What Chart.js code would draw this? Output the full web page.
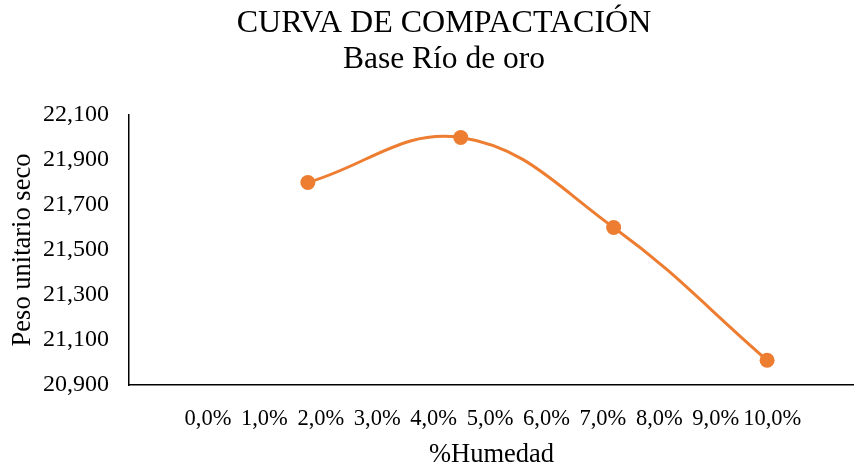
<!DOCTYPE html>
<html>
<head>
<meta charset="utf-8">
<script src="https://cdn.jsdelivr.net/npm/chart.js@4/dist/chart.umd.min.js"></script>
<style>
html,body{margin:0;padding:0;background:#fff;}
#wrap{width:854px;height:467px;}
</style>
</head>
<body>
<div id="wrap"><canvas id="c" width="854" height="467"></canvas></div>
<script>
const titleText = "CURVA DE COMPACTACIÓN";
const subtitleText = "Base Río de oro";
const xTitle = "%Humedad";
const yTitle = "Peso unitario seco";
const humedad = [1.77, 4.48, 7.19, 9.91];
const pesoSeco = [21800, 22000, 21600, 21010];
const xTickValues = [0, 1, 2, 3, 4, 5, 6, 7, 8, 9, 10];
const yTickValues = [20900, 21100, 21300, 21500, 21700, 21900, 22100];

const serif = "'Liberation Serif', 'Times New Roman', serif";

const titlePlugin = {
  id: 'titles',
  afterDraw(chart) {
    const ctx = chart.ctx;
    ctx.save();
    ctx.fillStyle = '#000';
    ctx.textAlign = 'center';
    ctx.textBaseline = 'alphabetic';
    ctx.font = "32px " + serif;
    ctx.fillText(titleText, 444, 32);
    ctx.font = "31.5px " + serif;
    ctx.fillText(subtitleText, 444, 68);
    ctx.restore();
  }
};

new Chart(document.getElementById('c'), {
  type: 'line',
  data: {
    datasets: [{
      data: humedad.map((x, i) => ({x: x, y: pesoSeco[i]})),
      borderColor: '#ED7D31',
      backgroundColor: '#ED7D31',
      borderWidth: 3,
      pointRadius: 7.5,
      pointHoverRadius: 7.5,
      pointBorderWidth: 0,
      tension: 0.4,
      fill: false
    }]
  },
  plugins: [titlePlugin],
  options: {
    responsive: false,
    animation: false,
    devicePixelRatio: 1,
    layout: { autoPadding: false, padding: { top: 115, right: 0, left: 0, bottom: 0 } },
    plugins: { legend: { display: false }, tooltip: { enabled: false } },
    scales: {
      x: {
        type: 'linear',
        min: -1.40,
        max: 11.45,
        afterBuildTicks(s) { s.ticks = xTickValues.map(v => ({value: v})); },
        afterFit(s) { s.height = 82; s.paddingRight = 0; s.paddingLeft = 0; },
        grid: { display: false, drawTicks: false },
        border: { display: true, color: '#000', width: 1.5 },
        ticks: {
          padding: 21,
          color: '#000',
          font: { family: serif, size: 22.5 },
          maxRotation: 0,
          autoSkip: false,
          callback: v => v.toFixed(1).replace('.', ',') + '%'
        },
        title: {
          display: true,
          text: xTitle,
          color: '#000',
          font: { family: serif, size: 26.5 },
          padding: { top: 6, bottom: -4 }
        }
      },
      y: {
        min: 20900,
        max: 22100,
        afterBuildTicks(s) { s.ticks = yTickValues.map(v => ({value: v})); },
        afterFit(s) { s.width = 129; },
        grid: { display: false, drawTicks: false },
        border: { display: true, color: '#000', width: 1.5 },
        ticks: {
          padding: 20,
          color: '#000',
          font: { family: serif, size: 24 },
          autoSkip: false,
          callback: v => v.toLocaleString('en-US')
        },
        title: {
          display: true,
          text: yTitle,
          color: '#000',
          font: { family: serif, size: 26.5 },
          padding: { top: 7, bottom: 0 }
        }
      }
    }
  }
});
</script>
</body>
</html>
